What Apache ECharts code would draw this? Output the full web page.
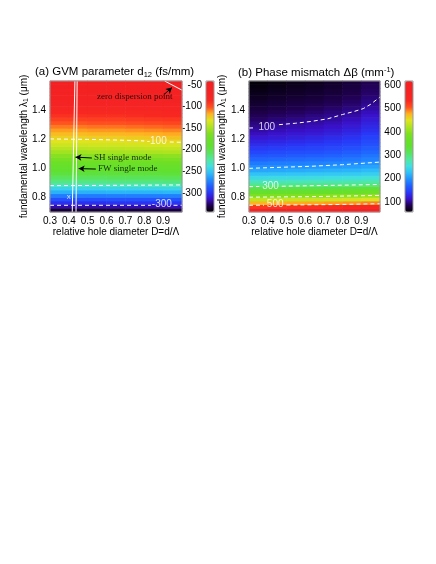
<!DOCTYPE html>
<html>
<head>
<meta charset="utf-8">
<script src="https://cdn.jsdelivr.net/npm/echarts@6.0.0/dist/echarts.min.js"></script>
<style>
  html, body { margin: 0; padding: 0; background: #fff; }
  #chart { width: 436px; height: 564px; }
</style>
</head>
<body>
<div id="chart"></div>
<script>
// cell centres (rows = fundamental wavelength, columns = relative hole diameter)
const wavelengths = [0.7125, 0.7375, 0.7625, 0.7875, 0.8125, 0.8375, 0.8625, 0.8875, 0.9125, 0.9375,
  0.9625, 0.9875, 1.0125, 1.0375, 1.0625, 1.0875, 1.1125, 1.1375, 1.1625, 1.1875, 1.2125, 1.2375,
  1.2625, 1.2875, 1.3125, 1.3375, 1.3625, 1.3875, 1.4125, 1.4375, 1.4625, 1.4875, 1.5125, 1.5375,
  1.5625, 1.5875];
const diameters = [0.35, 0.45, 0.55, 0.65, 0.75, 0.85, 0.95];

// (a) GVM parameter d12 (fs/mm), one row per wavelength
const gvmValues = [
  [-335,-335,-335,-334,-334,-334,-333],
  [-318,-318,-318,-317,-317,-317,-316],
  [-302,-302,-302,-301,-301,-301,-300],
  [-290,-290,-290,-289,-289,-289,-288],
  [-275,-275,-275,-274,-274,-274,-273],
  [-258,-258,-258,-257,-257,-257,-256],
  [-245,-245,-245,-244,-244,-244,-243],
  [-228,-228,-228,-227,-227,-227,-226],
  [-215,-215,-215,-214,-214,-214,-213],
  [-206,-206,-206,-205,-205,-205,-204],
  [-198,-198,-198,-197,-197,-197,-196],
  [-190,-190,-190,-189,-189,-189,-188],
  [-183,-183,-183,-182,-182,-182,-181],
  [-176,-176,-176,-175,-175,-175,-174],
  [-168,-168,-168,-167,-167,-167,-166],
  [-160,-160,-160,-159,-159,-159,-158],
  [-152,-152,-151,-151,-150,-149,-148],
  [-145,-145,-144,-144,-143,-142,-141],
  [-138,-138,-137,-137,-136,-135,-134],
  [-132,-132,-131,-131,-130,-129,-128],
  [-126,-126,-125,-125,-124,-123,-122],
  [-120,-120,-119,-119,-118,-117,-116],
  [-114,-114,-113,-113,-112,-111,-110],
  [-108,-108,-107,-107,-106,-105,-104],
  [-102,-102,-101,-101,-100,-99,-98],
  [-96,-96,-95,-95,-94,-93,-92],
  [-90,-90,-89,-89,-88,-87,-86],
  [-84,-84,-83,-83,-82,-81,-80],
  [-78,-78,-77,-77,-76,-75,-74],
  [-72,-72,-71,-71,-70,-69,-68],
  [-67,-67,-66,-66,-65,-64,-63],
  [-62,-62,-61,-61,-60,-59,-58],
  [-57,-57,-56,-56,-55,-54,-53],
  [-53,-53,-52,-52,-51,-50,-49],
  [-49,-49,-48,-48,-47,-46,-45],
  [-45,-45,-44,-44,-43,-42,-41]
];

// (b) phase mismatch (1/mm), one row per wavelength
const dbetaValues = [
  [575,577,578,580,582,585,590],
  [522,524,526,527,530,533,538],
  [474,476,478,479,482,485,490],
  [430,432,434,435,438,441,446],
  [391,393,394,396,398,400,405],
  [355,357,358,359,361,364,368],
  [321,322,324,325,327,329,333],
  [290,291,292,293,294,295,298],
  [267,268,269,270,271,272,275],
  [246,247,248,249,251,253,256],
  [227,228,229,231,232,234,238],
  [210,211,213,214,216,218,222],
  [196,197,199,200,202,204,208],
  [184,186,187,189,191,193,198],
  [172,174,176,178,180,183,189],
  [161,163,165,168,170,174,181],
  [151,154,156,158,161,166,173],
  [142,145,147,150,153,158,166],
  [133,136,139,142,145,150,159],
  [125,128,131,134,138,144,153],
  [118,121,124,128,132,137,147],
  [111,115,118,121,125,131,141],
  [105,109,112,115,119,125,135],
  [100,104,107,110,114,120,130],
  [95,99,102,105,109,115,125],
  [90,94,97,100,104,110,120],
  [86,89,92,96,100,105,115],
  [82,85,88,91,95,101,110],
  [78,81,84,87,91,96,105],
  [75,78,81,84,87,92,101],
  [72,75,78,80,84,89,97],
  [69,72,75,77,81,86,94],
  [67,70,72,75,78,83,91],
  [64,67,70,72,76,81,89],
  [62,65,68,70,74,79,87],
  [60,63,66,68,72,77,85]
];

// colour scale ranges and tick labels
const gvmRange = [-344, -41];
const dbetaRange = [57, 617];
const gvmBarTicks = [-50, -100, -150, -200, -250, -300];
const dbetaBarTicks = [100, 200, 300, 400, 500, 600];
const xTicks = [0.3, 0.4, 0.5, 0.6, 0.7, 0.8, 0.9];
const yTicks = [0.8, 1.0, 1.2, 1.4];

// contour lines (dashed), split where the level label sits
const gvmContours = [
  [[0.3, 1.202], [0.5, 1.199], [0.7, 1.193], [0.8, 1.188]],
  [[0.935, 1.181], [1.0, 1.179]],
  [[0.3, 0.881], [0.6, 0.883], [1.0, 0.886]],
  [[0.3, 0.746], [0.835, 0.746]],
  [[0.955, 0.746], [1.0, 0.746]]
];
const gvmContourLabels = [
  { name: '-100', value: [0.866, 1.184] },
  { name: '-300', value: [0.893, 0.751] }
];
const dbetaContours = [
  [[0.3, 1.277], [0.335, 1.278]],
  [[0.46, 1.30], [0.55, 1.31], [0.63, 1.322], [0.72, 1.34], [0.8, 1.37], [0.86, 1.39], [0.91, 1.41], [0.95, 1.44], [0.99, 1.48], [1.0, 1.49]],
  [[0.3, 1.0], [0.63, 1.014], [0.8, 1.025], [1.0, 1.043]],
  [[0.3, 0.874], [0.355, 0.875]],
  [[0.475, 0.877], [0.7, 0.882], [1.0, 0.889]],
  [[0.3, 0.802], [0.6, 0.805], [1.0, 0.814]],
  [[0.3, 0.746], [0.38, 0.747]],
  [[0.5, 0.748], [0.75, 0.751], [1.0, 0.757]]
];
const dbetaContourLabels = [
  { name: '100', value: [0.395, 1.283] },
  { name: '300', value: [0.415, 0.878] },
  { name: '500', value: [0.44, 0.752] }
];

// single-mode limits and zero dispersion curve (white solid lines)
const shSingleMode = [[0.418, 0.7], [0.432, 1.6]];
const fwSingleMode = [[0.438, 0.7], [0.444, 1.6]];
const zeroDispersion = [[0.908, 1.6], [1.0, 1.537]];

// annotations: text anchor and arrow (from -> to)
const notes = [
  { name: 'SH single mode', value: [0.528, 1.071] },
  { name: 'FW single mode', value: [0.549, 0.995] },
  { name: 'zero dispersion point', value: [0.75, 1.49] }
];
const arrows = [
  [[0.522, 1.071], [0.435, 1.077]],
  [[0.543, 0.995], [0.452, 0.998]],
  [[0.903, 1.505], [0.947, 1.556]]
];
const crossMark = [{ name: 'x', value: [0.4, 0.802] }];

const colormap = ['#000000', '#200050', '#3a10c8', '#2838f8', '#2060ff', '#2090ff', '#30c0f8',
  '#40e0e0', '#50e8a0', '#58e460', '#60e030', '#68e028', '#80e020', '#b0e420', '#e0e420',
  '#ffb020', '#ff5020', '#f82820', '#f52424', '#f42222', '#f22020'];

const FONT = 'Liberation Sans';
const chart = echarts.init(document.getElementById('chart'), null, { renderer: 'canvas' });

function cells(values) {
  const out = [];
  values.forEach((row, r) => row.forEach((v, c) => out.push([c, r, v])));
  return out;
}

// map cells: a slightly oversized rect per cell so no seams show between them
function renderCell(params, api) {
  const p = api.coord([api.value(0), api.value(1)]);
  const s = api.size([1, 1]);
  return {
    type: 'rect',
    shape: { x: p[0] - s[0] / 2 - 0.3, y: p[1] - s[1] / 2 - 0.3, width: s[0] + 0.6, height: s[1] + 0.6 },
    style: { fill: api.visual('color') }
  };
}

function catX(grid) {
  return { type: 'category', gridIndex: grid, data: diameters, show: false, position: 'top' };
}
function catY(grid) {
  return { type: 'category', gridIndex: grid, data: wavelengths, show: false, position: 'right' };
}
function valX(grid) {
  return {
    type: 'value', gridIndex: grid, min: 0.3, max: 1.0, position: 'bottom',
    axisLine: { show: false }, axisTick: { show: false }, splitLine: { show: false },
    axisLabel: { customValues: xTicks, formatter: v => v.toFixed(1), color: '#000', fontSize: 10, fontFamily: FONT, margin: 4 },
    name: 'relative hole diameter D=d/\u039b', nameLocation: 'middle', nameGap: 15,
    nameTextStyle: { color: '#000', fontSize: 10, fontFamily: FONT }
  };
}
function valY(grid, gap) {
  return {
    type: 'value', gridIndex: grid, min: 0.7, max: 1.6, position: 'left',
    axisLine: { show: false }, axisTick: { show: false }, splitLine: { show: false },
    axisLabel: { customValues: yTicks, formatter: v => v.toFixed(1), color: '#000', fontSize: 10, fontFamily: FONT, margin: 4 },
    name: 'fundamental wavelength \u03bb{s|1} (\u03bcm)', nameLocation: 'middle', nameRotate: 90, nameGap: gap,
    nameMoveOverlap: false,
    nameTextStyle: { color: '#000', fontSize: 10, fontFamily: FONT, rich: { s: { fontSize: 7, fontFamily: FONT, color: '#000', padding: [0, 0, -4, 0] } } }
  };
}
function barX(grid) {
  return { type: 'value', gridIndex: grid, show: false, min: 0, max: 1 };
}
function barY(grid, range, ticks) {
  return {
    type: 'value', gridIndex: grid, min: range[0], max: range[1], position: 'left',
    axisLine: { show: false }, axisTick: { show: false }, splitLine: { show: false },
    axisLabel: { customValues: ticks, color: '#000', fontSize: 10, fontFamily: FONT, margin: 4 }
  };
}

const whiteDash = { color: '#fff', width: 1, type: [4, 3] };
const series = [
  { type: 'custom', xAxisIndex: 0, yAxisIndex: 0, data: cells(gvmValues), renderItem: renderCell, silent: true, encode: { x: 0, y: 1 } },
  { type: 'custom', xAxisIndex: 1, yAxisIndex: 1, data: cells(dbetaValues), renderItem: renderCell, silent: true, encode: { x: 0, y: 1 } }
];
gvmContours.forEach(seg => series.push({ type: 'line', xAxisIndex: 2, yAxisIndex: 2, data: seg, symbol: 'none', lineStyle: whiteDash, silent: true }));
dbetaContours.forEach(seg => series.push({ type: 'line', xAxisIndex: 3, yAxisIndex: 3, data: seg, symbol: 'none', lineStyle: whiteDash, silent: true }));

function labelSeries(ax, data, label) {
  return {
    type: 'scatter', xAxisIndex: ax, yAxisIndex: ax, data: data, symbolSize: 0, silent: true,
    label: Object.assign({ show: true, formatter: p => p.name, fontFamily: FONT }, label)
  };
}
series.push(labelSeries(2, gvmContourLabels, { position: 'inside', color: '#fff', fontSize: 10 }));
series.push(labelSeries(3, dbetaContourLabels, { position: 'inside', color: '#fff', fontSize: 10 }));
series.push(labelSeries(2, crossMark, { position: 'inside', color: '#fff', fontSize: 8 }));

[shSingleMode, fwSingleMode, zeroDispersion].forEach(seg => series.push({
  type: 'line', xAxisIndex: 2, yAxisIndex: 2, data: seg, symbol: 'none', silent: true,
  lineStyle: { color: '#fff', width: 1 }
}));

series.push(labelSeries(2, notes.slice(0, 2), { position: 'right', distance: 1, color: '#000', fontSize: 9, fontFamily: 'Liberation Serif' }));
series.push(labelSeries(2, notes.slice(2), { position: 'inside', color: '#000', fontSize: 9, fontFamily: 'Liberation Serif' }));
series.push({
  type: 'line', xAxisIndex: 2, yAxisIndex: 2, data: [], silent: true,
  markLine: {
    silent: true, symbol: ['none', 'arrow'], symbolSize: [5, 6],
    lineStyle: { color: '#000', width: 1, type: 'solid' }, label: { show: false },
    data: arrows.map(a => [{ coord: a[0] }, { coord: a[1] }])
  }
});

const option = {
  animation: false,
  backgroundColor: '#fff',
  textStyle: { fontFamily: FONT },
  title: [
    {
      text: '(a) GVM parameter d{s|12} (fs/mm)', left: 35, top: 66, padding: 0,
      textStyle: { fontSize: 11.5, fontWeight: 'normal', color: '#000', fontFamily: FONT,
        rich: { s: { fontSize: 7.5, color: '#000', fontFamily: FONT, padding: [0, 0, -5, 0] } } }
    },
    {
      text: '(b) Phase mismatch \u0394\u03b2 (mm{u|-1})', left: 238, top: 66, padding: 0,
      textStyle: { fontSize: 11.5, fontWeight: 'normal', color: '#000', fontFamily: FONT,
        rich: { u: { fontSize: 7.5, color: '#000', fontFamily: FONT, padding: [0, 0, 6, 0] } } }
    }
  ],
  grid: [
    { left: 50, top: 81, width: 132, height: 131, show: true, z: 5, backgroundColor: 'transparent', borderColor: '#999', borderWidth: 1 },
    { left: 249, top: 81, width: 131, height: 131, show: true, z: 5, backgroundColor: 'transparent', borderColor: '#999', borderWidth: 1 },
    { left: 206, top: 81, width: 8, height: 131, show: true, z: 5, backgroundColor: 'transparent', borderColor: '#999', borderWidth: 1 },
    { left: 405, top: 81, width: 8, height: 131, show: true, z: 5, backgroundColor: 'transparent', borderColor: '#999', borderWidth: 1 }
  ],
  xAxis: [catX(0), catX(1), valX(0), valX(1), barX(2), barX(3)],
  yAxis: [catY(0), catY(1), valY(0, 21), valY(1, 22), barY(2, gvmRange, gvmBarTicks), barY(3, dbetaRange, dbetaBarTicks)],
  visualMap: [
    { type: 'continuous', seriesIndex: 0, dimension: 2, min: gvmRange[0], max: gvmRange[1], left: 206, top: 81,
      itemWidth: 8, itemHeight: 131, padding: 0, calculable: false, hoverLink: false, text: null,
      inRange: { color: colormap } },
    { type: 'continuous', seriesIndex: 1, dimension: 2, min: dbetaRange[0], max: dbetaRange[1], left: 405, top: 81,
      itemWidth: 8, itemHeight: 131, padding: 0, calculable: false, hoverLink: false, text: null,
      inRange: { color: colormap } }
  ],
  series: series
};
chart.setOption(option);
</script>
</body>
</html>
